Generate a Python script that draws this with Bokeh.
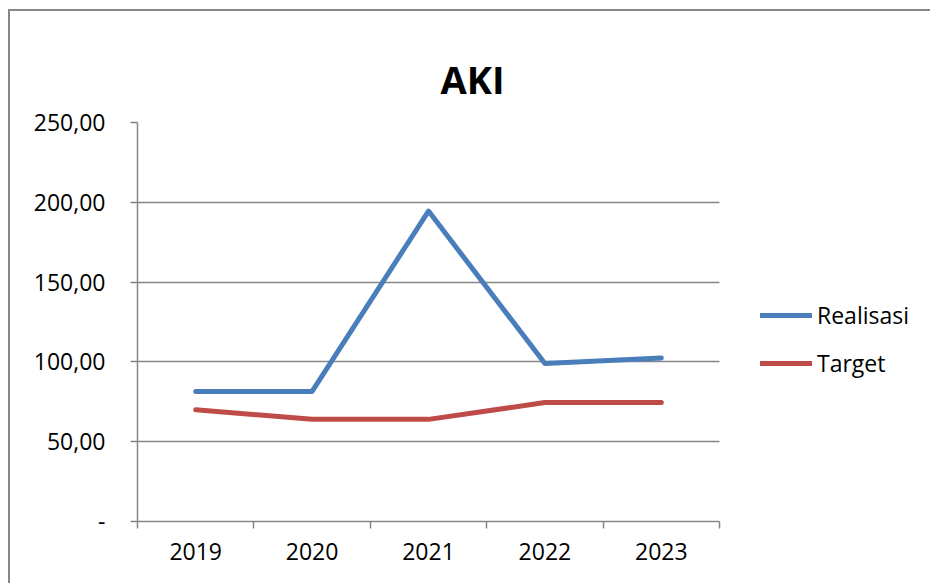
from bokeh.plotting import figure
from bokeh.models import (FixedTicker, Legend, LegendItem, Title, Range1d, Grid)
from bokeh.embed import file_html
from bokeh.resources import INLINE

years = ["2019", "2020", "2021", "2022", "2023"]
realisasi = [81.5, 81.5, 194.5, 99.0, 102.5]
target = [70.0, 64.0, 64.0, 74.5, 74.5]
y_ticks = [0, 50, 100, 150, 200, 250]
y_tick_labels = ["-", "50,00", "100,00", "150,00", "200,00", "250,00"]
title_text = "AKI"

FONT = "Open Sans"
GRID = "#868686"

n = len(years)
xs = [i + 0.5 for i in range(n)]

# layout (pixels)
FIG_W, FIG_H = 936, 583
LEFT, TOP, BOTTOM = 137, 122, 62
PLOT_W = 582                      # width of the category area
frame_w = FIG_W - LEFT
x_end = n * frame_w / PLOT_W      # frame extends right so the legend fits inside it

p = figure(width=FIG_W, height=FIG_H, output_backend="svg", toolbar_location=None,
           x_range=Range1d(0, x_end), y_range=Range1d(0, 250),
           min_border_left=LEFT, min_border_right=0, min_border_top=TOP,
           min_border_bottom=BOTTOM)
# chart-area border (left and top edges visible) drawn behind a transparent canvas border
p.styles = {"box-shadow": "inset 8px 9px 0 0 white, inset 10px 11px 0 0 #868686",
            "background-color": "white"}
p.outline_line_color = None
p.background_fill_color = "white"
p.border_fill_color = None

p.title = Title(text=title_text, align="left", offset=303, standoff=32,
                vertical_align="top",
                text_font=FONT, text_font_style="bold", text_font_size="38px",
                text_color="black")

# x axis: labels at centres, tick marks at boundaries (minor ticks)
p.xaxis.bounds = (0, n)
p.xaxis.ticker = FixedTicker(ticks=xs, minor_ticks=list(range(n + 1)))
p.xaxis.major_label_overrides = {x: y for x, y in zip(xs, years)}
p.xaxis.major_tick_line_color = None
p.xaxis.minor_tick_line_color = GRID
p.xaxis.minor_tick_out = 7
p.xaxis.minor_tick_in = 0
p.xaxis.minor_tick_line_width = 1.5
p.xaxis.axis_line_color = GRID
p.xaxis.axis_line_width = 1.5
p.xaxis.major_label_text_font = FONT
p.xaxis.major_label_text_font_size = "23px"
p.xaxis.major_label_text_color = "black"
p.xaxis.major_label_standoff = 14

p.yaxis.ticker = FixedTicker(ticks=y_ticks, minor_ticks=[])
p.yaxis.major_label_overrides = {t: l for t, l in zip(y_ticks, y_tick_labels)}
p.yaxis.major_tick_line_color = GRID
p.yaxis.major_tick_out = 7
p.yaxis.major_tick_in = 0
p.yaxis.major_tick_line_width = 1.5
p.yaxis.axis_line_color = GRID
p.yaxis.axis_line_width = 1.5
p.yaxis.major_label_text_font = FONT
p.yaxis.major_label_text_font_size = "23px"
p.yaxis.major_label_text_color = "black"
p.yaxis.major_label_standoff = 25

p.xgrid.grid_line_color = None
p.ygrid.ticker = FixedTicker(ticks=y_ticks[1:])
p.ygrid.grid_line_color = GRID
p.ygrid.grid_line_width = 1.5
if "cross_bounds" in Grid.properties():
    p.ygrid.cross_bounds = (0, n)

r1 = p.line(xs, realisasi, line_color="#4A7EBB", line_width=5, line_cap="round", line_join="round")
r2 = p.line(xs, target, line_color="#BE4B48", line_width=5, line_cap="round", line_join="round")

legend = Legend(items=[LegendItem(label="Realisasi", renderers=[r1]),
                       LegendItem(label="Target", renderers=[r2])],
                location=(623, 142), orientation="vertical",
                glyph_width=52, glyph_height=24, label_height=24, spacing=16,
                label_standoff=5, padding=0, margin=0,
                border_line_color=None, background_fill_alpha=0,
                label_text_font=FONT, label_text_font_size="23px",
                label_text_color="black")
p.add_layout(legend, "center")

open("out.html", "w").write(file_html(p, INLINE))
